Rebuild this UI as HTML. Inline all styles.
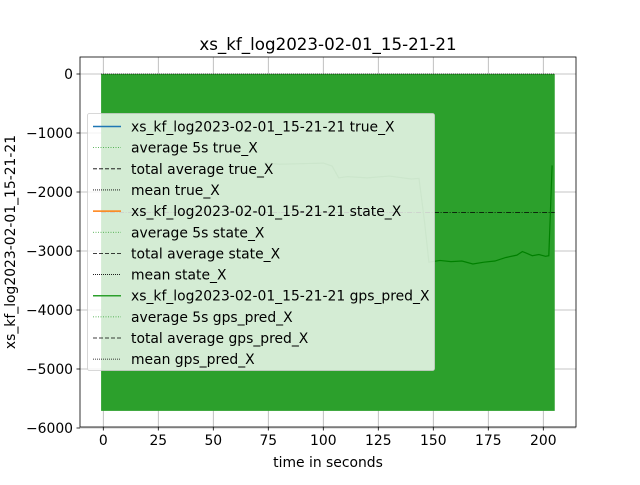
<!DOCTYPE html>
<html><head><meta charset="utf-8"><style>
body{margin:0;background:#fff;}
svg text{font-family:"DejaVu Sans","Liberation Sans",sans-serif;fill:#000;}
</style></head><body>
<svg id="c" width="640" height="480" xmlns="http://www.w3.org/2000/svg">
<rect width="640" height="480" fill="#fff"/>
<g id="plot"></g>
</svg>
<script>
const xTicks=[0,25,50,75,100,125,150,175,200];
const yTicks=[0,-1000,-2000,-3000,-4000,-5000,-6000];
const fillRange=[-1,205.2];
const fillLow=-5710, fillHigh=0;
const avgT=[73,80,90,100,104,107,111,120,130,140,143.5,146,148,153,158,163,168,173,178,183,188,190.5,192.5,195,198,201,202.5,204];
const avgV=[-1500,-1530,-1520,-1510,-1560,-1760,-1740,-1760,-1730,-1780,-1770,-2500,-3190,-3160,-3180,-3170,-3220,-3190,-3170,-3110,-3070,-3010,-3040,-3080,-3060,-3090,-3080,-1550];
const totalAvg=-2350;
const legendLabels=["xs_kf_log2023-02-01_15-21-21 true_X","average 5s true_X","total average true_X","mean true_X","xs_kf_log2023-02-01_15-21-21 state_X","average 5s state_X","total average state_X","mean state_X","xs_kf_log2023-02-01_15-21-21 gps_pred_X","average 5s gps_pred_X","total average gps_pred_X","mean gps_pred_X"];
const legendStyles=["#1f77b4|","#2ca02c|1,1.5","#000|4,2","#000|1,1","#ff7f0e|","#2ca02c|1,1.5","#000|4,2","#000|1,1","#2ca02c|","#2ca02c|1,1.5","#000|4,2","#000|1,1"];

const L=80,R=576,T=57,B=427;
const X=t=>103.3+t*(543.3-103.3)/200;
const Y=v=>74+(-v)*(354/6000);
const g=document.getElementById('plot');
const NS="http://www.w3.org/2000/svg";
function el(tag,attrs,parent){const e=document.createElementNS(NS,tag);for(const k in attrs)e.setAttribute(k,attrs[k]);(parent||g).appendChild(e);return e;}
xTicks.forEach(t=>{const l=el('line',{x1:X(t),x2:X(t),y1:T,y2:B,stroke:'#b0b0b0','stroke-width':0.8});

});
yTicks.forEach(v=>{const l=el('line',{x1:L,x2:R,y1:Y(v),y2:Y(v),stroke:'#b0b0b0','stroke-width':0.8});

});
const f=el('rect',{x:X(fillRange[0]),y:Y(fillHigh),width:X(fillRange[1])-X(fillRange[0]),height:Y(fillLow)-Y(fillHigh),fill:'#2ca02c'});


const zl=el('line',{x1:X(fillRange[0]),x2:X(fillRange[1]),y1:Y(0),y2:Y(0),stroke:'#000','stroke-width':0.8,'stroke-dasharray':'1,1'});


const ta=el('line',{x1:X(fillRange[0]),x2:X(fillRange[1]),y1:Y(totalAvg),y2:Y(totalAvg),stroke:'#000','stroke-width':0.8,'stroke-dasharray':'5,1.5,1,1.5'});


const ap=el('polyline',{points:avgT.map((t,i)=>X(t)+','+Y(avgV[i])).join(' '),fill:'none',stroke:'#008000','stroke-width':1.2});


const fr=el('rect',{x:L,y:T,width:R-L,height:B-T,fill:'none',stroke:'#000','stroke-width':0.8});


xTicks.forEach(t=>{el('line',{x1:X(t),x2:X(t),y1:B,y2:B+3.5,stroke:'#000','stroke-width':0.8});
const tx=el('text',{x:X(t),y:B+18,'text-anchor':'middle','font-size':13.9});tx.textContent=t;

});
yTicks.forEach(v=>{el('line',{x1:L-3.5,x2:L,y1:Y(v),y2:Y(v),stroke:'#000','stroke-width':0.8});
const tx=el('text',{x:L-7,y:Y(v)+5,'text-anchor':'end','font-size':13.9});tx.textContent=v===0?'0':'\u2212'+(-v);

});
const ti=el('text',{x:328,y:50,'text-anchor':'middle','font-size':16.7});ti.textContent='xs_kf_log2023-02-01_15-21-21';


const xl=el('text',{x:328,y:467,'text-anchor':'middle','font-size':13.9});xl.textContent='time in seconds';


const yl=el('text',{x:0,y:0,'text-anchor':'middle','font-size':13.9,transform:'translate(15,242) rotate(-90)'});yl.textContent='xs_kf_log2023-02-01_15-21-21';


const lg=el('g',{});


el('rect',{x:87.5,y:113.5,width:347,height:257,rx:2,fill:'#fff','fill-opacity':0.8,stroke:'#ccc','stroke-width':0.8},lg);
legendLabels.forEach((s,i)=>{const y=126.5+i*21.15;const [c,d]=legendStyles[i].split('|');
const a={x1:93,x2:121,y1:y,y2:y,stroke:c,'stroke-width':d?0.8:1.5};if(d)a['stroke-dasharray']=d;
const ln=el('line',a,lg);


const tx=el('text',{x:131,y:y+5,'font-size':13.9},lg);tx.textContent=s;

});
</script>
</body></html>
